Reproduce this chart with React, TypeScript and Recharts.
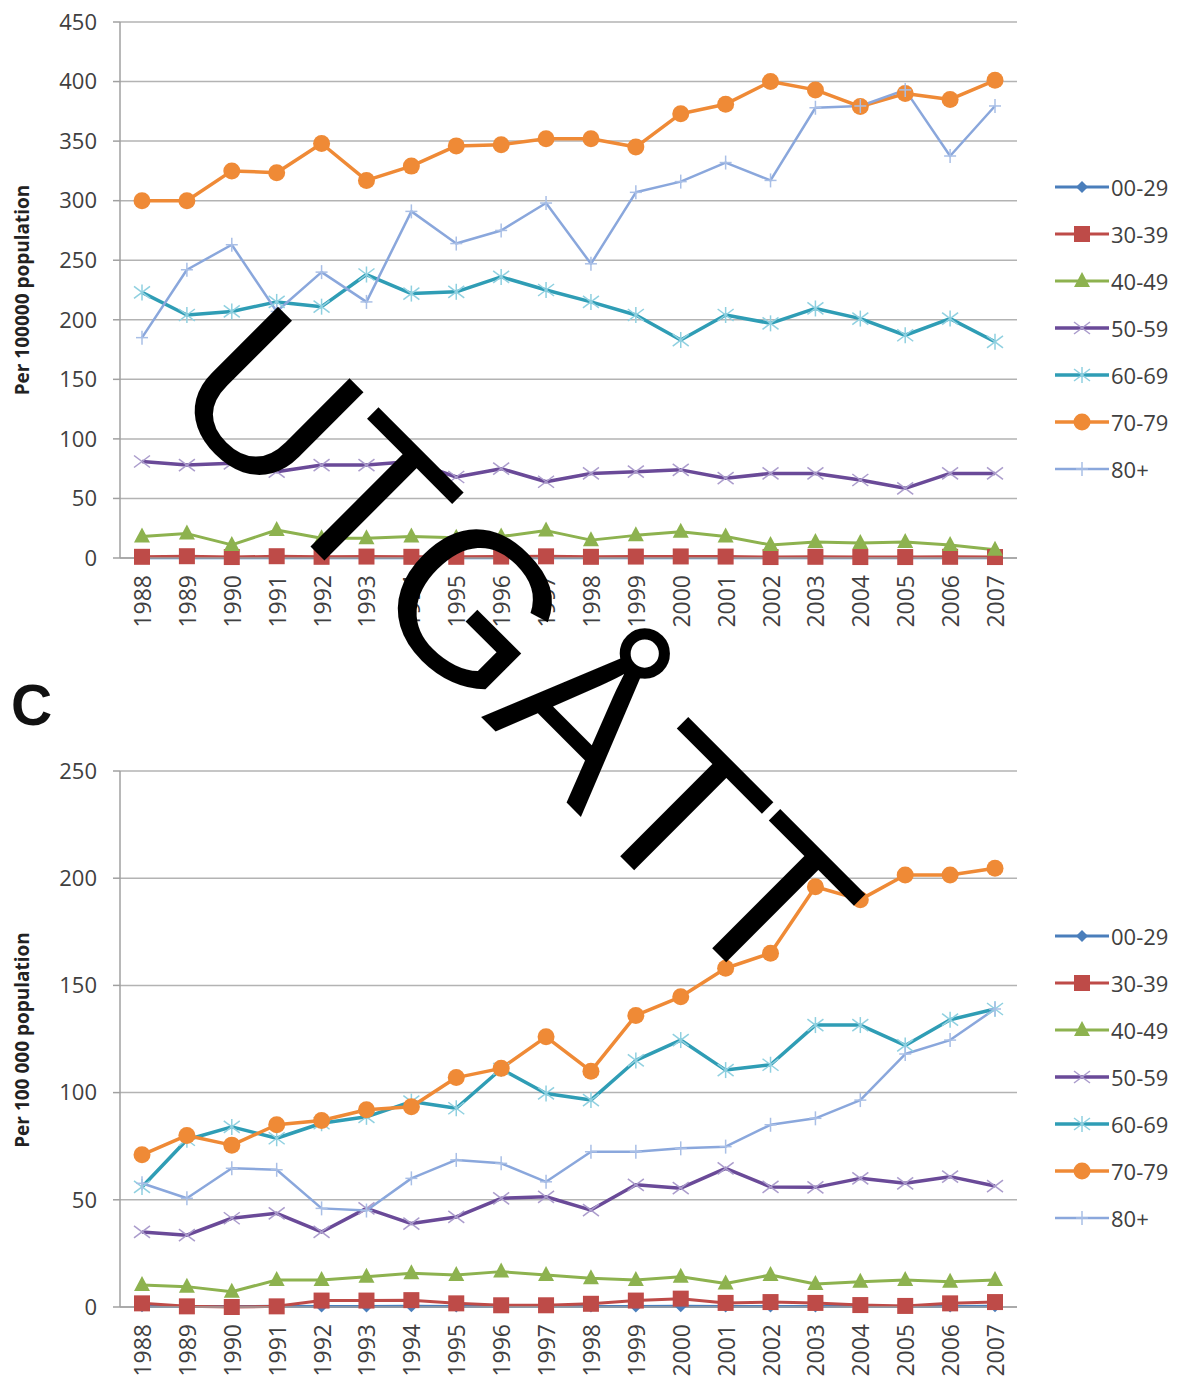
import React from "react";
import { LineChart, Line, XAxis, YAxis, CartesianGrid, Legend } from "recharts";

const years = ["1988", "1989", "1990", "1991", "1992", "1993", "1994", "1995", "1996", "1997", "1998", "1999", "2000", "2001", "2002", "2003", "2004", "2005", "2006", "2007"];

// upper panel (per 100000)
const top0029 = [0.3, 0.2, 0.3, 0.2, 0.3, 0.2, 0.2, 0.3, 0.2, 0.2, 0.3, 0.2, 0.2, 0.2, 0.3, 0.2, 0.2, 0.2, 0.2, 0.2];
const top3039 = [1, 1.5, 0.8, 1.5, 1, 1.2, 1, 1, 1.2, 1.4, 1, 1.2, 1.3, 1.2, 0.8, 1, 0.8, 0.8, 1, 0.8];
const top4049 = [18, 20.5, 11, 23.5, 16.5, 16.5, 18, 17, 18, 23, 15, 19, 22, 18, 11, 13.5, 12.5, 13.5, 11, 7];
const top5059 = [81, 78, 79.5, 72.5, 78, 78, 81, 68, 75, 64, 71, 72.5, 74, 67, 71, 71, 65.5, 58.5, 71, 71];
const top6069 = [223, 204, 207, 215, 211, 238, 222, 223.5, 236, 225, 215, 204, 183, 204, 197, 209.5, 201, 187, 201, 181.5];
const top7079 = [300, 300, 325, 323.5, 348, 317, 329, 346, 347, 352, 352, 345, 373, 381, 400, 393, 379, 390, 385, 401];
const top80 = [185, 242, 263, 207, 240, 215, 291, 264, 275, 298, 247, 307, 316, 332, 317, 378, 379.5, 393, 337.5, 379.5];

// panel C (per 100 000)
const bot0029 = [0.3, 0.2, 0.2, 0.3, 0.2, 0.2, 0.3, 0.2, 0.2, 0.3, 0.2, 0.2, 0.3, 0.2, 0.2, 0.2, 0.3, 0.2, 0.2, 0.3];
const bot3039 = [1.7, 0.3, 0, 0.3, 3, 3, 3.2, 1.7, 0.8, 0.8, 1.5, 3, 3.9, 1.9, 2.3, 1.9, 0.9, 0.5, 1.7, 2.3];
const bot4049 = [10.3, 9.5, 7.1, 12.6, 12.6, 14.1, 15.7, 14.9, 16.5, 14.9, 13.4, 12.6, 14.1, 11, 14.9, 10.7, 11.8, 12.6, 11.8, 12.6];
const bot5059 = [35, 33.5, 41.4, 43.7, 35, 46, 38.9, 42, 50.7, 51.4, 45.2, 57, 55.4, 64.7, 56, 55.8, 60, 57.7, 60.8, 56.4];
const bot6069 = [56, 78, 84, 78.7, 85.7, 88.7, 95.8, 92.7, 111, 99.6, 96.5, 115, 124.5, 110.5, 113, 131.5, 131.5, 122, 134, 139];
const bot7079 = [71, 80, 75.5, 85, 87, 92, 93.4, 107, 111.3, 126, 110, 136, 144.7, 158, 165, 196, 190, 201.5, 201.5, 204.6];
const bot80 = [57.7, 50.7, 64.7, 64, 46, 45, 60, 68.6, 67, 58.4, 72.4, 72.4, 74, 74.8, 85, 88, 96.5, 118, 124.5, 139];

const topTicks = [0, 50, 100, 150, 200, 250, 300, 350, 400, 450];
const botTicks = [0, 50, 100, 150, 200, 250];

const series = [
  { key: "g0029", name: "00-29", color: "#4a7ebb", mark: "#4a7ebb", shape: "diamond", width: 3 },
  { key: "g3039", name: "30-39", color: "#be4b48", mark: "#be4b48", shape: "square", width: 3 },
  { key: "g4049", name: "40-49", color: "#8db24f", mark: "#8db24f", shape: "triangle", width: 3 },
  { key: "g5059", name: "50-59", color: "#6a4a98", mark: "#ab9ccc", shape: "x", width: 3.5 },
  { key: "g6069", name: "60-69", color: "#2f9db5", mark: "#8fd0e0", shape: "star", width: 3.5 },
  { key: "g7079", name: "70-79", color: "#ef8a36", mark: "#ef8a36", shape: "circle", width: 3.5 },
  { key: "g80", name: "80+", color: "#8aa7dc", mark: "#a9bfe6", shape: "plus", width: 2.5 },
];

const build = (cols: number[][]) =>
  years.map((y, i) => {
    const row: any = { year: y };
    series.forEach((s, j) => (row[s.key] = cols[j][i]));
    return row;
  });

const topData = build([top0029, top3039, top4049, top5059, top6069, top7079, top80]);
const botData = build([bot0029, bot3039, bot4049, bot5059, bot6069, bot7079, bot80]);

const FONT = "'Open Sans', 'DejaVu Sans', sans-serif";

function marker(s: any, cx: number, cy: number, key: string) {
  if (cx == null || cy == null) return <g key={key} />;
  switch (s.shape) {
    case "diamond":
      return <polygon key={key} points={`${cx},${cy - 6} ${cx + 6},${cy} ${cx},${cy + 6} ${cx - 6},${cy}`} fill={s.mark} />;
    case "square":
      return <rect key={key} x={cx - 8} y={cy - 8} width={16} height={16} fill={s.mark} />;
    case "triangle":
      return <polygon key={key} points={`${cx},${cy - 9} ${cx + 8},${cy + 6} ${cx - 8},${cy + 6}`} fill={s.mark} />;
    case "x":
      return (
        <g key={key} stroke={s.mark} strokeWidth={1.5}>
          <line x1={cx - 8} y1={cy - 6} x2={cx + 8} y2={cy + 6} />
          <line x1={cx - 8} y1={cy + 6} x2={cx + 8} y2={cy - 6} />
        </g>
      );
    case "star":
      return (
        <g key={key} stroke={s.mark} strokeWidth={1.5}>
          <line x1={cx - 8} y1={cy - 6} x2={cx + 8} y2={cy + 6} />
          <line x1={cx - 8} y1={cy + 6} x2={cx + 8} y2={cy - 6} />
          <line x1={cx} y1={cy - 8} x2={cx} y2={cy + 8} />
        </g>
      );
    case "circle":
      return <circle key={key} cx={cx} cy={cy} r={8.5} fill={s.mark} />;
    case "plus":
      return (
        <g key={key} stroke={s.mark} strokeWidth={1.5}>
          <line x1={cx - 6} y1={cy} x2={cx + 6} y2={cy} />
          <line x1={cx} y1={cy - 7} x2={cx} y2={cy + 7} />
        </g>
      );
  }
  return <g key={key} />;
}

const XTick = (props: any) => {
  const { x, y, payload } = props;
  return (
    <text x={x} y={y} transform={`rotate(-90 ${x} ${y})`} textAnchor="end" dominantBaseline="central" fontSize={23} fill="#404040" fontFamily={FONT}>
      {payload.value}
    </text>
  );
};

const LegendBox = () => (
  <div style={{ fontFamily: FONT }}>
    {series.map((s) => (
      <div key={s.key} style={{ display: "flex", alignItems: "center", height: 47 }}>
        <svg width={56} height={24}>
          <line x1={1} y1={12} x2={55} y2={12} stroke={s.color} strokeWidth={s.width} />
          {marker(s, 28, 12, "m" + s.key)}
        </svg>
        <span style={{ fontSize: 22, color: "#404040", marginLeft: 1 }}>{s.name}</span>
      </div>
    ))}
  </div>
);

function Panel({ data, ticks, max, height, top, bottom, legendTop }: any) {
  return (
    <LineChart width={1191} height={height} data={data} margin={{ top, right: 174, left: 50, bottom }}>
      <CartesianGrid vertical={false} stroke="#b3b3b3" strokeWidth={1.5} />
      <XAxis
        dataKey="year"
        height={80}
        tickSize={0}
        tickMargin={17}
        tick={<XTick />}
        stroke="#a0a0a0"
        strokeWidth={1.5}
        interval={0}
        padding={{ left: 22, right: 22 }}
      />
      <YAxis
        width={70}
        domain={[0, max]}
        ticks={ticks}
        tickSize={7}
        tickMargin={16}
        stroke="#a0a0a0"
        strokeWidth={1.5}
        tick={{ fontSize: 22, fill: "#404040", fontFamily: FONT }}
      />
      <Legend layout="vertical" align="center" verticalAlign="middle" wrapperStyle={{ left: 1054, top: legendTop, width: 137 }} content={<LegendBox />} />
      {series.map((s) => (
        <Line
          key={s.key}
          type="linear"
          dataKey={s.key}
          name={s.name}
          stroke={s.color}
          strokeWidth={s.width}
          strokeLinejoin="round"
          isAnimationActive={false}
          dot={(p: any) => marker(s, p.cx, p.cy, `${s.key}-${p.index}`)}
          activeDot={false}
        />
      ))}
    </LineChart>
  );
}

export default function App() {
  return (
    <div style={{ position: "absolute", left: 0, top: 0, width: 1191, height: 1386, background: "#fff", overflow: "hidden" }}>
      <div style={{ position: "absolute", left: 0, top: 0 }}>
        <Panel data={topData} ticks={topTicks} max={450} height={650} top={22} bottom={12} legendTop={163} />
      </div>
      <div style={{ position: "absolute", left: 0, top: 700 }}>
        <Panel data={botData} ticks={botTicks} max={250} height={686} top={71} bottom={-1} legendTop={212} />
      </div>
      <svg width={1191} height={1386} style={{ position: "absolute", left: 0, top: 0, pointerEvents: "none" }}>
        <text x={29} y={290} transform="rotate(-90 29 290)" textAnchor="middle" fontSize={19} fontWeight="bold" fill="#222" fontFamily={FONT}>
          Per 100000 population
        </text>
        <text x={29} y={1040} transform="rotate(-90 29 1040)" textAnchor="middle" fontSize={19} fontWeight="bold" fill="#222" fontFamily={FONT}>
          Per 100 000 population
        </text>
        <text x={11} y={725} fontSize={57} fontWeight="bold" fill="#111" fontFamily="'Liberation Sans', Arial, sans-serif">
          C
        </text>
        <text
          x={464}
          y={700}
          transform="rotate(45 464 700)"
          textAnchor="middle"
          fontSize={213}
          fill="#000"
          fontFamily="'Liberation Sans', Arial, sans-serif"
        >
          UTGÅTT
        </text>
      </svg>
    </div>
  );
}
